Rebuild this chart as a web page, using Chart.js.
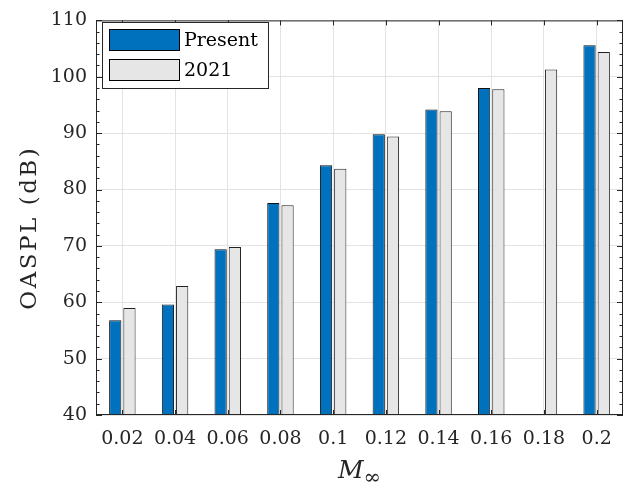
<!DOCTYPE html>
<html>
<head>
<meta charset="utf-8">
<script src="https://cdn.jsdelivr.net/npm/chart.js@4"></script>
<style>
  html, body { margin: 0; padding: 0; background: #fff; }
  #wrap { width: 628px; height: 485px; }
</style>
</head>
<body>
<div id="wrap"><canvas id="chart" width="628" height="485"></canvas></div>
<script>
// data
const machNumbers = ["0.02", "0.04", "0.06", "0.08", "0.1", "0.12", "0.14", "0.16", "0.18", "0.2"];
const presentOaspl = [56.8, 59.6, 69.4, 77.6, 84.3, 89.8, 94.2, 98.0, null, 105.6];
const oaspl2021 = [59.0, 62.9, 69.8, 77.2, 83.7, 89.4, 93.9, 97.8, 101.3, 104.4];
const yTicks = [40, 50, 60, 70, 80, 90, 100, 110];

const axisColor = "#262626";
const serif = "'DejaVu Serif', serif";

// MATLAB-like box, inward ticks, legend and axis labels
const matlabAxes = {
  id: "matlabAxes",
  afterDraw(chart) {
    const ctx = chart.ctx;
    const { left, right, top, bottom } = chart.chartArea;
    const xs = chart.scales.x;
    const ys = chart.scales.y;

    ctx.save();
    ctx.strokeStyle = axisColor;
    ctx.lineWidth = 1;
    ctx.strokeRect(left + 0.5, top + 0.5, right - left - 1, bottom - top - 1);

    ctx.beginPath();
    // x ticks, bottom and top
    machNumbers.forEach((_, i) => {
      const x = Math.round(xs.getPixelForTick(i)) + 0.5;
      ctx.moveTo(x, bottom); ctx.lineTo(x, bottom - 5);
      ctx.moveTo(x, top); ctx.lineTo(x, top + 5);
    });
    // y ticks, major and minor, left and right
    for (let v = 40; v <= 110; v += 2) {
      const y = Math.round(ys.getPixelForValue(v)) + 0.5;
      const len = v % 10 === 0 ? 6 : 3.5;
      ctx.moveTo(left, y); ctx.lineTo(left + len, y);
      ctx.moveTo(right, y); ctx.lineTo(right - len, y);
    }
    ctx.stroke();

    // legend
    const lx = 102, ly = 22, lw = 166, lh = 66;
    ctx.fillStyle = "#fff";
    ctx.fillRect(lx, ly, lw, lh);
    ctx.strokeRect(lx + 0.5, ly + 0.5, lw, lh);
    ctx.font = "19px " + serif;
    ctx.textBaseline = "middle";
    chart.data.datasets.forEach((ds, i) => {
      const sy = 29 + i * 30;
      ctx.fillStyle = ds.backgroundColor;
      ctx.fillRect(109, sy, 71, 22);
      ctx.strokeStyle = "#000";
      ctx.strokeRect(109.5, sy + 0.5, 70, 21);
      ctx.fillStyle = "#000";
      ctx.fillText(ds.label, 184, sy + 12);
    });

    // y title
    ctx.fillStyle = axisColor;
    ctx.save();
    ctx.translate(30, (top + bottom) / 2 + 10);
    ctx.rotate(-Math.PI / 2);
    ctx.font = "23px " + serif;
    ctx.letterSpacing = "2.5px";
    ctx.textAlign = "center";
    ctx.textBaseline = "middle";
    ctx.fillText("OASPL (dB)", 0, 0);
    ctx.restore();

    // x title: M with subscript infinity
    ctx.textBaseline = "alphabetic";
    ctx.textAlign = "left";
    ctx.font = "italic 25px " + serif;
    const mW = ctx.measureText("M").width;
    ctx.font = "21px " + serif;
    const infW = ctx.measureText("∞").width;
    const x0 = (left + right) / 2 - (mW + infW) / 2;
    ctx.font = "italic 25px " + serif;
    ctx.fillText("M", x0, 478);
    ctx.font = "21px " + serif;
    ctx.fillText("∞", x0 + mW, 484);
    ctx.restore();
  }
};

new Chart(document.getElementById("chart"), {
  type: "bar",
  data: {
    labels: machNumbers,
    datasets: [
      {
        label: "Present",
        data: presentOaspl,
        backgroundColor: "#0072BD",
        borderColor: "#111",
        borderWidth: 1,
        borderSkipped: false,
        barPercentage: 0.86,
        categoryPercentage: 0.54
      },
      {
        label: "2021",
        data: oaspl2021,
        backgroundColor: "#E6E6E6",
        borderColor: "#222",
        borderWidth: 1,
        borderSkipped: false,
        barPercentage: 0.86,
        categoryPercentage: 0.54
      }
    ]
  },
  options: {
    responsive: false,
    animation: false,
    layout: { padding: { top: 16, right: 5, left: 0, bottom: 0 } },
    plugins: {
      legend: { display: false },
      tooltip: { enabled: false }
    },
    scales: {
      x: {
        grid: { color: "#e3e3e3", offset: false, drawTicks: false },
        border: { display: false },
        ticks: {
          color: axisColor,
          font: { family: serif, size: 19 },
          padding: 13,
          maxRotation: 0,
          autoSkip: false
        },
        afterFit: (scale) => { scale.height = 70; }
      },
      y: {
        min: 40,
        max: 110,
        afterBuildTicks: (scale) => { scale.ticks = yTicks.map((v) => ({ value: v })); },
        grid: { color: "#e3e3e3", drawTicks: false },
        border: { display: false },
        ticks: {
          color: axisColor,
          font: { family: serif, size: 19 },
          padding: 9
        },
        afterFit: (scale) => { scale.width = 96; }
      }
    }
  },
  plugins: [matlabAxes]
});
</script>
</body>
</html>
